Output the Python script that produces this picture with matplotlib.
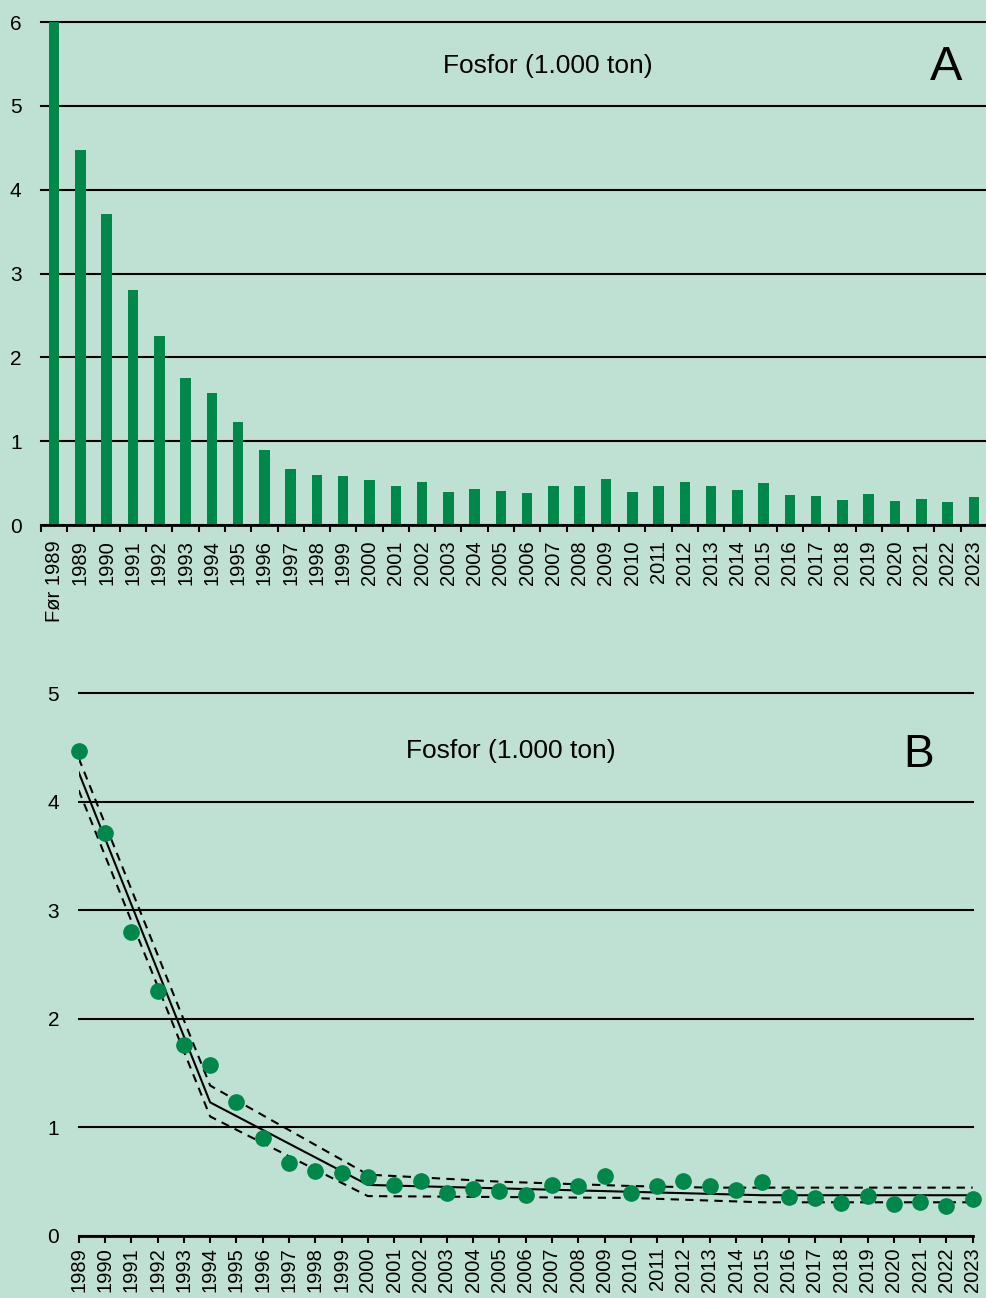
import numpy as np
import matplotlib
matplotlib.use("Agg")
import matplotlib.pyplot as plt

plt.rcParams['font.family'] = ['Liberation Sans', 'DejaVu Sans']

# phosphorus discharges, 1.000 ton
categories = ["Før 1989"] + [str(y) for y in range(1989, 2024)]
years = list(range(1989, 2024))
fosfor_before = 6.0
fosfor = [4.47, 3.71, 2.80, 2.26, 1.76, 1.57, 1.23, 0.90, 0.67, 0.60,
          0.58, 0.54, 0.47, 0.51, 0.40, 0.43, 0.41, 0.38, 0.47, 0.46,
          0.55, 0.40, 0.46, 0.51, 0.46, 0.42, 0.50, 0.36, 0.35, 0.30,
          0.37, 0.29, 0.31, 0.28, 0.34]

# fitted trend and confidence band (panel B)
trend_years = [1989, 1994, 2000, 2015, 2023]
trend_vals = [4.27, 1.23, 0.47, 0.375, 0.375]
upper_years = [1989, 1994, 2000, 2005, 2010, 2013, 2023]
upper_vals = [4.40, 1.385, 0.565, 0.50, 0.46, 0.445, 0.445]
lower_years = [1989, 1994, 2000, 2010, 2015, 2023]
lower_vals = [4.105, 1.10, 0.367, 0.35, 0.31, 0.31]

bg = '#bfe1d3'
green = '#00884b'
title = "Fosfor (1.000 ton)"

fig = plt.figure(figsize=(9.86, 12.98), dpi=100, facecolor=bg)

# ---- panel A: bars
ax1 = fig.add_axes([0.0416, 0.5955, 0.9594, 0.3875], facecolor=bg)
bar_vals = [fosfor_before] + fosfor
x = np.arange(len(categories))
ax1.bar(x, bar_vals, width=0.4, color=green, zorder=3)
ax1.set_xlim(-0.5, len(categories) - 0.5)
ax1.set_ylim(0, 6)
ax1.set_yticks(range(0, 7))
ax1.set_xticks(x)
ax1.set_xticklabels(categories, rotation=90)
ax1.set_xticks(np.arange(-0.5, len(categories), 1), minor=True)
ax1.tick_params(axis='x', which='major', length=0, pad=11, labelsize=14.5)
ax1.tick_params(axis='x', which='minor', length=5, width=1.5, direction='out')
ax1.tick_params(axis='y', length=0, pad=14, labelsize=15)
ax1.grid(axis='y', color='black', linewidth=1.5, zorder=1)
for s in ['left', 'right', 'top']:
    ax1.spines[s].set_visible(False)
ax1.spines['bottom'].set_linewidth(2)
ax1.spines['bottom'].set_zorder(4)
ax1.text(0.536, 0.9125, title, transform=ax1.transAxes, ha='center', va='center', fontsize=19)
ax1.text(0.957, 0.909, "A", transform=ax1.transAxes, ha='center', va='center', fontsize=35)

# ---- panel B: points with trend
ax2 = fig.add_axes([0.0798, 0.0478, 0.9067, 0.4183], facecolor=bg)
ax2.plot(trend_years, trend_vals, color='black', linewidth=1.5, zorder=3)
ax2.plot(upper_years, upper_vals, color='black', linewidth=1.5, linestyle=(0, (4, 3)), zorder=3)
ax2.plot(lower_years, lower_vals, color='black', linewidth=1.5, linestyle=(0, (4, 3)), zorder=3)
ax2.plot(years, fosfor, 'o', color=green, markersize=11, zorder=4, clip_on=False)
ax2.set_xlim(1989, 2023)
ax2.set_ylim(0, 5)
ax2.set_yticks(range(0, 6))
ax2.set_xticks(years)
ax2.set_xticklabels([str(y) for y in years], rotation=90)
ax2.tick_params(axis='x', length=5, width=1.5, pad=3, labelsize=14.5)
ax2.tick_params(axis='y', length=0, pad=14, labelsize=15)
ax2.grid(axis='y', color='black', linewidth=1.5, zorder=1)
for s in ['left', 'right', 'top']:
    ax2.spines[s].set_visible(False)
ax2.spines['bottom'].set_linewidth(2)
ax2.text(0.4836, 0.893, title, transform=ax2.transAxes, ha='center', va='center', fontsize=19)
ax2.text(0.94, 0.886, "B", transform=ax2.transAxes, ha='center', va='center', fontsize=33)

# keep the top gridlines at full width
for ax in (ax1, ax2):
    for gl in ax.yaxis.get_gridlines():
        gl.set_clip_on(False)

fig.savefig("out.png", dpi=100, facecolor=bg)
